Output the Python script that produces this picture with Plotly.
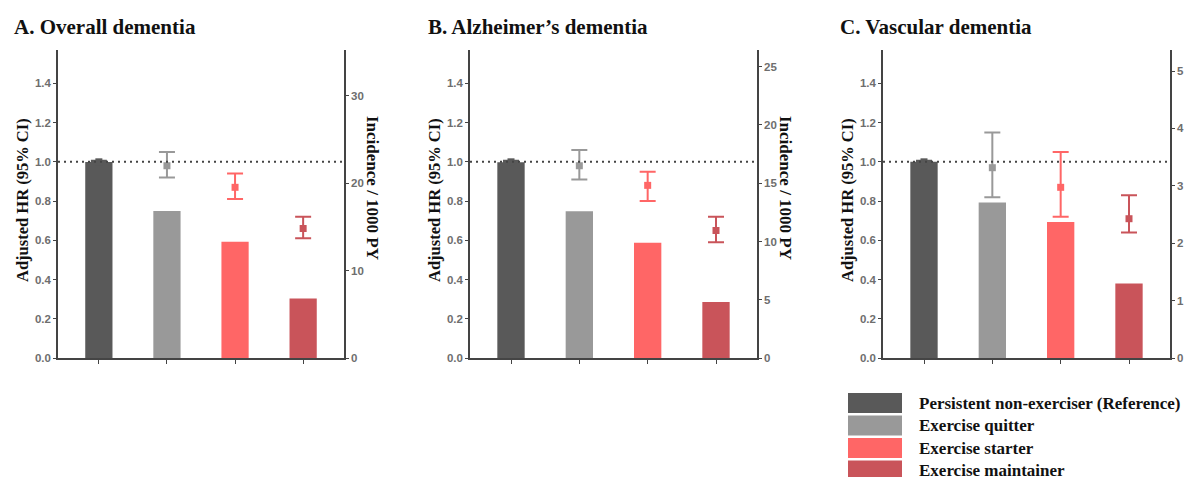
import plotly.graph_objects as go

# ---------------- data ----------------
GROUPS = ["Persistent non-exerciser (Reference)", "Exercise quitter",
          "Exercise starter", "Exercise maintainer"]
COLORS = ["#595959", "#999999", "#ff6666", "#c9545a"]
PANELS = ["A. Overall dementia", "B. Alzheimer\u2019s dementia", "C. Vascular dementia"]
X_POS = [0, 1, 2, 3]

INC_A = [22.4, 16.8, 13.3, 6.8]
INC_B = [16.8, 12.6, 9.9, 4.8]
INC_C = [3.42, 2.71, 2.37, 1.30]

HR_A = [1.00, 0.98, 0.87, 0.66]
LO_A = [0.995, 0.92, 0.81, 0.61]
HI_A = [1.005, 1.05, 0.94, 0.72]

HR_B = [1.00, 0.98, 0.88, 0.65]
LO_B = [0.995, 0.91, 0.80, 0.59]
HI_B = [1.005, 1.06, 0.95, 0.72]

HR_C = [1.00, 0.97, 0.87, 0.71]
LO_C = [0.995, 0.82, 0.72, 0.64]
HI_C = [1.005, 1.15, 1.05, 0.83]

HR_TICKS = [0.0, 0.2, 0.4, 0.6, 0.8, 1.0, 1.2, 1.4]
INC_TICKS_A = [0, 10, 20, 30]
INC_TICKS_B = [0, 5, 10, 15, 20, 25]
INC_TICKS_C = [0, 1, 2, 3, 4, 5]
HR_REF = 1.0

# ---------------- layout constants ----------------
# the page body has an 8px default margin: work in screen pixels, convert
OFF = 8
W, H = 1200 - OFF, 477 - OFF


def px(xs):
    return (xs - OFF) / W


def py(ys):
    return 1 - (ys - OFF) / H


X_DOM_PX = [(58, 344), (470, 757), (883, 1170)]
Y_DOM_PX = (50, 358)
HR_MAX = 1.57
INC_MAX = [35.2, 26.43, 5.366]
TITLE_X_PX = [12, 426, 838]

inc_sets = [INC_A, INC_B, INC_C]
hr_sets = [(HR_A, LO_A, HI_A), (HR_B, LO_B, HI_B), (HR_C, LO_C, HI_C)]
inc_ticks = [INC_TICKS_A, INC_TICKS_B, INC_TICKS_C]

SERIF = "Liberation Serif, Times New Roman, serif"
SANS = "Liberation Sans, Arial, sans-serif"
AX_COLOR = "#444444"
TICK_FONT = dict(family=SANS, size=11.5, color="#6e6e6e", weight="bold")

fig = go.Figure()
layout = dict(
    width=W, height=H, margin=dict(l=0, r=0, t=0, b=0, autoexpand=False),
    paper_bgcolor="white", plot_bgcolor="white", showlegend=False,
    shapes=[], annotations=[],
)

ydom = [py(Y_DOM_PX[1]), py(Y_DOM_PX[0])]

for i in range(3):
    xid = "" if i == 0 else str(i + 1)
    yinc = "" if i == 0 else str(2 * i + 1)
    yhr = str(2 * i + 2)
    xdom = [px(X_DOM_PX[i][0]), px(X_DOM_PX[i][1])]

    # bars (incidence, right axis)
    fig.add_trace(go.Bar(
        x=X_POS, y=inc_sets[i], width=0.4,
        marker=dict(color=COLORS, line=dict(width=0)),
        xaxis="x" + xid, yaxis="y" + yinc, hoverinfo="y",
    ))
    # HR points with CI (left axis)
    hr, lo, hi = hr_sets[i]
    for g in range(4):
        fig.add_trace(go.Scatter(
            x=[X_POS[g]], y=[hr[g]], mode="markers",
            marker=dict(symbol="square", size=7, color=COLORS[g]),
            error_y=dict(type="data", symmetric=False,
                         array=[hi[g] - hr[g]], arrayminus=[hr[g] - lo[g]],
                         color=COLORS[g], thickness=2, width=8),
            xaxis="x" + xid, yaxis="y" + yhr,
        ))

    layout["xaxis" + xid] = dict(
        domain=xdom, anchor="y" + yinc, range=[-0.6, 3.6], automargin=False,
        showgrid=False, zeroline=False, showline=True, linecolor=AX_COLOR,
        linewidth=1.5, tickvals=X_POS, ticks="outside", ticklen=4,
        tickcolor=AX_COLOR, showticklabels=False, fixedrange=True,
    )
    layout["yaxis" + yinc] = dict(
        domain=ydom, anchor="x" + xid, side="right", range=[0, INC_MAX[i]],
        automargin=False,
        tickvals=inc_ticks[i], ticks="outside", ticklen=3, tickcolor=AX_COLOR,
        showgrid=False, zeroline=False, showline=True, linecolor=AX_COLOR,
        linewidth=1.5, tickfont=TICK_FONT,
    )
    layout["yaxis" + yhr] = dict(
        domain=ydom, anchor="x" + xid, side="left", overlaying="y" + yinc,
        range=[0, HR_MAX], tickvals=HR_TICKS, tickformat=".1f", automargin=False,
        ticks="outside", ticklen=3, tickcolor=AX_COLOR,
        showgrid=False, zeroline=False, showline=True, linecolor=AX_COLOR,
        linewidth=1.5, tickfont=TICK_FONT,
    )

    # reference dotted line at HR = 1
    layout["shapes"].append(dict(
        type="line", xref="x" + xid + " domain", yref="y" + yhr,
        x0=0, x1=1, y0=HR_REF, y1=HR_REF, layer="above",
        line=dict(color="#444444", width=2, dash="2px,4px"),
    ))

    # panel title
    layout["annotations"].append(dict(
        text=PANELS[i], xref="paper", yref="paper",
        x=px(TITLE_X_PX[i]), y=py(27), xanchor="left", yanchor="middle",
        showarrow=False, font=dict(family=SERIF, size=21, color="#111111", weight="bold"),
    ))
    # left axis title
    layout["annotations"].append(dict(
        text="Adjusted HR (95% CI)", xref="paper", yref="paper",
        x=px(X_DOM_PX[i][0] - 36), y=py(200), textangle=-90,
        xanchor="center", yanchor="middle", showarrow=False,
        font=dict(family=SERIF, size=16.5, color="#111111", weight="bold"),
    ))
    # right axis title
    layout["annotations"].append(dict(
        text="Incidence / 1000 PY", xref="paper", yref="paper",
        x=px(X_DOM_PX[i][1] + 29), y=py(188), textangle=90,
        xanchor="center", yanchor="middle", showarrow=False,
        font=dict(family=SERIF, size=17, color="#111111", weight="bold"),
    ))

# ---------------- custom legend ----------------
LEG_X0, LEG_X1, LEG_TX = 848, 902, 917
LEG_Y0, LEG_ROW, LEG_H = 393, 22.5, 20
for g in range(4):
    top = LEG_Y0 + g * LEG_ROW
    layout["shapes"].append(dict(
        type="rect", xref="paper", yref="paper",
        x0=px(LEG_X0), x1=px(LEG_X1), y0=py(top + LEG_H), y1=py(top),
        fillcolor=COLORS[g], line=dict(width=0),
    ))
    layout["annotations"].append(dict(
        text=GROUPS[g], xref="paper", yref="paper",
        x=px(LEG_TX), y=py(top + LEG_H / 2), xanchor="left", yanchor="middle",
        showarrow=False, font=dict(family=SERIF, size=17, color="#111111", weight="bold"),
    ))

fig.update_layout(**layout)
fig.write_html("out.html")
